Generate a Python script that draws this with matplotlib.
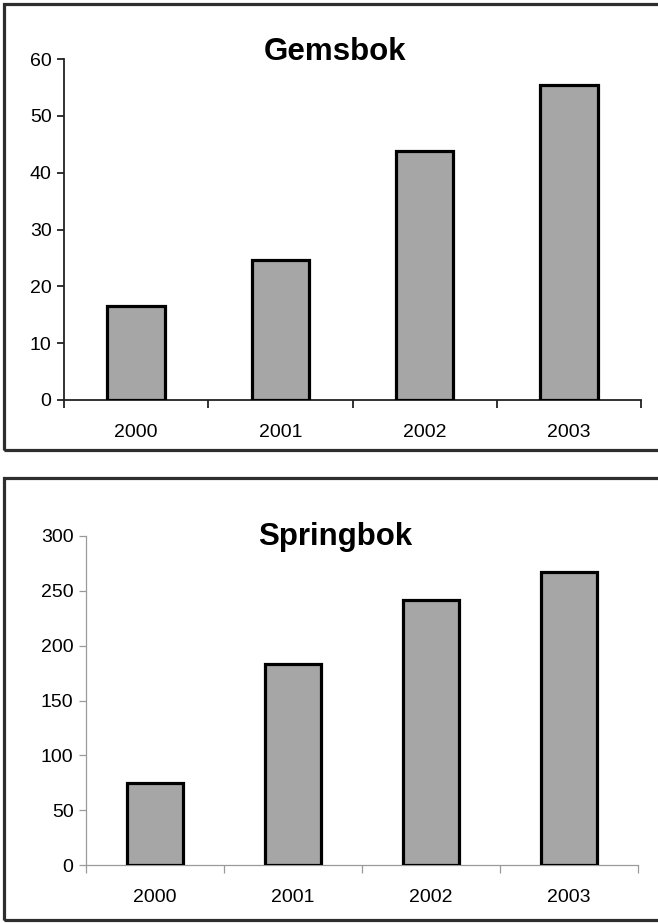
import matplotlib
matplotlib.use('Agg')
import matplotlib.pyplot as plt
from matplotlib.patches import Rectangle
import numpy as np

plt.rcParams['font.family'] = ['Liberation Sans', 'DejaVu Sans']

years = ['2000', '2001', '2002', '2003']
gemsbok = [16.5, 24.7, 43.9, 55.4]
springbok = [75, 183, 242, 267]

W, H = 658, 923
fig = plt.figure(figsize=(W / 100, H / 100), dpi=100)


def px_axes(left, right, top, bottom):
    # pixel box (from top-left) -> figure fraction
    return fig.add_axes([left / W, (H - bottom) / H, (right - left) / W, (bottom - top) / H])


def panel_box(top, bottom):
    fig.patches.append(Rectangle((4 / W, (H - bottom) / H), 1.0, (bottom - top) / H,
                                 transform=fig.transFigure, fill=False,
                                 edgecolor='#2e2e2e', linewidth=2.3, zorder=0))


def bar_panel(ax, values, ymax, step, title, title_y, spine_color, spine_lw):
    x = np.arange(len(years))
    ax.bar(x, values, width=0.4, color='#a6a6a6', edgecolor='black', linewidth=2.3, zorder=3)
    ax.set_xlim(-0.5, len(years) - 0.5)
    ax.set_ylim(0, ymax)
    ax.set_yticks(np.arange(0, ymax + 1, step))
    ax.set_xticks(x)
    ax.set_xticklabels(years)
    ax.set_xticks(np.arange(-0.5, len(years), 1.0), minor=True)
    ax.tick_params(axis='x', which='major', length=0, pad=17, labelsize=14)
    ax.tick_params(axis='x', which='minor', length=6, direction='out',
                   color=spine_color, width=spine_lw)
    ax.tick_params(axis='y', length=5, direction='out', color=spine_color,
                   width=spine_lw, labelsize=14, pad=4)
    for s in ['top', 'right']:
        ax.spines[s].set_visible(False)
    for s in ['left', 'bottom']:
        ax.spines[s].set_color(spine_color)
        ax.spines[s].set_linewidth(spine_lw)
    ax.set_facecolor('none')
    fig.text(335 / W, (H - title_y) / H, title, ha='center', va='center',
             fontsize=22.5, fontweight='bold')


panel_box(4, 450)
panel_box(478, 920)

ax1 = px_axes(64, 641, 59, 400)
bar_panel(ax1, gemsbok, 60, 10, 'Gemsbok', 52, '#222222', 1.3)

ax2 = px_axes(86, 638, 536, 865)
bar_panel(ax2, springbok, 300, 50, 'Springbok', 537, '#9a9a9a', 0.9)

fig.savefig('out.png', dpi=100)
